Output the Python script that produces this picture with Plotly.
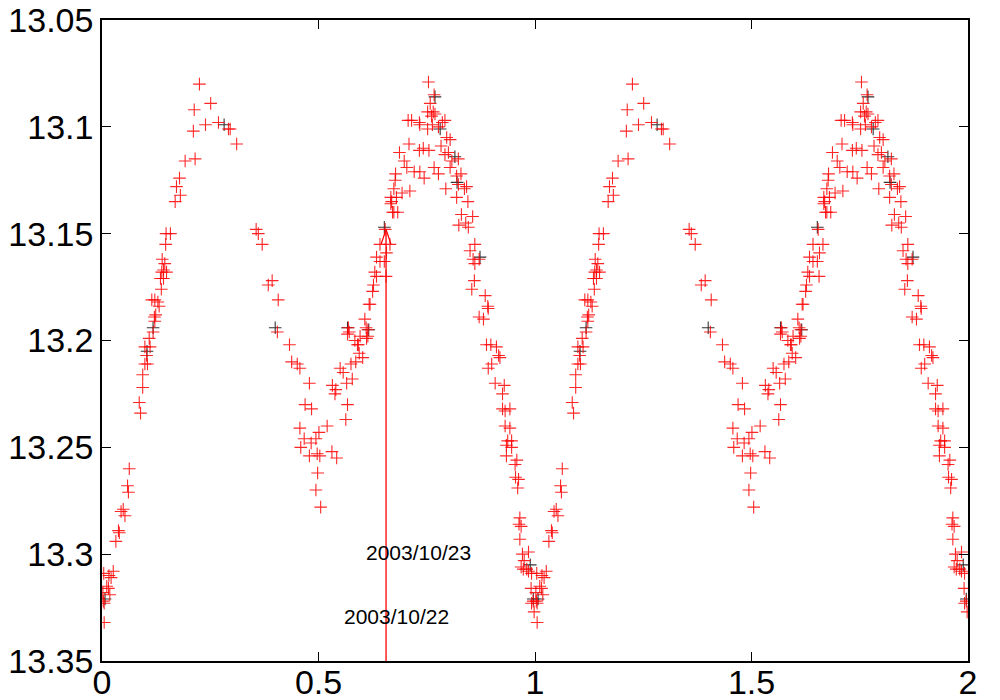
import plotly.graph_objects as go
import numpy as np

# phase-folded light curve (one cycle, repeated for phase 1-2)
red_phase = [
    0.225, 0.251, 0.213, 0.239, 0.269, 0.211, 0.292, 0.296, 0.311, 0.192, 0.215, 0.179, 0.172, 0.181, 0.169,
    0.148, 0.158, 0.147, 0.139, 0.145, 0.138, 0.149, 0.142, 0.135, 0.142, 0.137, 0.115, 0.122, 0.129, 0.132,
    0.124, 0.121, 0.122, 0.118, 0.109, 0.099, 0.111, 0.103, 0.099, 0.105, 0.094, 0.094, 0.086, 0.089, 0.063,
    0.059, 0.061, 0.044, 0.049, 0.053, 0.038, 0.040, 0.032, 0.026, 0.016, 0.021, 0.011, 0.015, 0.018, 0.003,
    0.005, 0.005, 0.004, 0.002,
    0.356, 0.361, 0.370, 0.384, 0.393, 0.407, 0.405, 0.433, 0.438, 0.451, 0.457, 0.479, 0.469, 0.484, 0.457,
    0.467, 0.494, 0.501, 0.459, 0.483, 0.479, 0.497, 0.503, 0.520, 0.531, 0.542, 0.498, 0.494, 0.505, 0.567,
    0.563, 0.532, 0.540, 0.538, 0.550, 0.557, 0.565, 0.578, 0.569, 0.571, 0.575, 0.586, 0.584, 0.590, 0.594,
    0.602, 0.596, 0.614, 0.607, 0.610, 0.617, 0.625, 0.627, 0.630, 0.634, 0.656, 0.634, 0.642, 0.652, 0.657,
    0.642, 0.665, 0.654, 0.667, 0.674, 0.683, 0.619, 0.614, 0.567, 0.592, 0.611,
    0.754, 0.767, 0.758, 0.752, 0.765, 0.761, 0.769, 0.707, 0.715, 0.733, 0.734, 0.752, 0.763, 0.777, 0.786,
    0.792, 0.709, 0.687, 0.733, 0.742, 0.755, 0.783, 0.796, 0.804, 0.698, 0.704, 0.721, 0.734, 0.744, 0.767,
    0.777, 0.792, 0.800, 0.808, 0.823, 0.804, 0.678, 0.677, 0.674, 0.667, 0.680, 0.693, 0.669, 0.671, 0.711,
    0.794, 0.819, 0.829, 0.823, 0.837, 0.842, 0.819, 0.845, 0.830, 0.824, 0.840, 0.846, 0.856, 0.861, 0.850,
    0.857, 0.871, 0.861, 0.860, 0.854, 0.885, 0.891, 0.892, 0.871, 0.881,
    0.888, 0.898, 0.911, 0.916, 0.919, 0.900, 0.892, 0.908, 0.929, 0.925, 0.925, 0.931, 0.942, 0.931, 0.942,
    0.937, 0.946, 0.934, 0.946, 0.934, 0.954, 0.958, 0.955, 0.962, 0.960, 0.965, 0.963, 0.968, 0.965, 0.971,
    0.985, 0.975, 0.968, 0.973, 0.981, 0.985, 0.992, 0.991, 0.996, 0.992, 0.998,
]
red_mag = [
    13.080, 13.089, 13.092, 13.099, 13.098, 13.102, 13.101, 13.101, 13.108, 13.116, 13.115, 13.124, 13.128, 13.132, 13.135,
    13.150, 13.150, 13.155, 13.162, 13.164, 13.168, 13.168, 13.167, 13.171, 13.171, 13.176, 13.181, 13.181, 13.182, 13.184,
    13.188, 13.189, 13.191, 13.196, 13.199, 13.203, 13.203, 13.207, 13.211, 13.211, 13.216, 13.222, 13.229, 13.234, 13.260,
    13.268, 13.271, 13.280, 13.279, 13.282, 13.289, 13.290, 13.294, 13.308, 13.310, 13.311, 13.315, 13.316, 13.319, 13.322,
    13.323, 13.332, 13.309, 13.318,
    13.148, 13.150, 13.155, 13.174, 13.172, 13.181, 13.196, 13.202, 13.210, 13.211, 13.213, 13.220, 13.230, 13.232, 13.241,
    13.246, 13.246, 13.243, 13.250, 13.248, 13.254, 13.253, 13.254, 13.240, 13.252, 13.255, 13.262, 13.270, 13.278, 13.230,
    13.237, 13.221, 13.223, 13.225, 13.213, 13.215, 13.220, 13.218, 13.194, 13.196, 13.211, 13.210, 13.200, 13.202, 13.206,
    13.208, 13.198, 13.198, 13.190, 13.194, 13.183, 13.177, 13.174, 13.168, 13.170, 13.170, 13.161, 13.163, 13.163, 13.159,
    13.155, 13.155, 13.148, 13.136, 13.140, 13.140, 13.183, 13.195, 13.197, 13.202, 13.199,
    13.079, 13.085, 13.089, 13.093, 13.093, 13.095, 13.094, 13.097, 13.097, 13.098, 13.099, 13.101, 13.099, 13.100, 13.098,
    13.097, 13.108, 13.112, 13.111, 13.110, 13.111, 13.109, 13.105, 13.106, 13.116, 13.119, 13.121, 13.121, 13.124, 13.119,
    13.122, 13.113, 13.112, 13.116, 13.115, 13.119, 13.122, 13.125, 13.129, 13.133, 13.133, 13.131, 13.135, 13.140, 13.130,
    13.129, 13.123, 13.122, 13.127, 13.129, 13.128, 13.133, 13.135, 13.141, 13.146, 13.145, 13.147, 13.142, 13.155, 13.158,
    13.162, 13.162, 13.164, 13.172, 13.176, 13.179, 13.184, 13.185, 13.189, 13.190,
    13.202, 13.202, 13.203, 13.207, 13.208, 13.211, 13.213, 13.220, 13.221, 13.225, 13.232, 13.233, 13.232, 13.240, 13.241,
    13.247, 13.247, 13.249, 13.250, 13.254, 13.258, 13.256, 13.264, 13.265, 13.269, 13.283, 13.286, 13.287, 13.293, 13.300,
    13.299, 13.303, 13.306, 13.307, 13.307, 13.308, 13.309, 13.316, 13.322, 13.323, 13.327,
]

black_phase = [0.118, 0.104, 0.282, 0.400, 0.567, 0.616, 0.652, 0.769, 0.781, 0.815, 0.820, 0.873, 0.007, 0.996, 0.989]
black_mag = [13.194, 13.205, 13.099, 13.194, 13.194, 13.195, 13.147, 13.086, 13.101, 13.114, 13.126, 13.161, 13.321, 13.321, 13.305]

# arrow marking 2003/10/23 start
arrow_phase = 0.656
arrow_mag_base = 13.35
arrow_mag_tip = 13.148
labels = ["2003/10/23", "2003/10/22"]
label_phase = [0.730, 0.681]
label_mag = [13.299, 13.329]

def two_cycles(p):
    p = np.array(p)
    return np.concatenate([p, p + 1])

fig = go.Figure()

fig.add_trace(go.Scatter(
    x=two_cycles(black_phase), y=black_mag * 2, mode="markers",
    marker=dict(symbol="cross-thin", size=9, line=dict(color="#333333", width=1.1)),
    showlegend=False))

fig.add_trace(go.Scatter(
    x=two_cycles(red_phase), y=red_mag * 2, mode="markers",
    marker=dict(symbol="cross-thin", size=9, line=dict(color="rgba(255,0,0,0.85)", width=1.1)),
    showlegend=False))

# arrow shaft and open head
hw, hh = 0.0115, 0.007
fig.add_trace(go.Scatter(
    x=[arrow_phase, arrow_phase, None, arrow_phase - hw, arrow_phase, arrow_phase + hw],
    y=[arrow_mag_base, arrow_mag_tip, None, arrow_mag_tip + hh, arrow_mag_tip, arrow_mag_tip + hh],
    mode="lines", line=dict(color="red", width=1.3), showlegend=False, hoverinfo="skip"))

for t, px, py in zip(labels, label_phase, label_mag):
    fig.add_annotation(x=px, y=py, text=t, showarrow=False,
                       font=dict(family="Liberation Sans, Arial", size=21, color="black"))

axis_common = dict(showgrid=False, zeroline=False, showline=True, linecolor="black", linewidth=1.5,
                   mirror="ticks", ticks="inside", ticklen=9, tickwidth=1.2, tickcolor="black",
                   automargin=False,
                   tickfont=dict(family="Liberation Sans, Arial", size=34, color="black"))

fig.update_xaxes(range=[0, 2], tickvals=[0, 0.5, 1, 1.5, 2], ticktext=["0", "0.5", "1", "1.5", "2"],
                 ticklabelstandoff=-10, **axis_common)
fig.update_yaxes(range=[13.35, 13.05], tickvals=[13.05, 13.1, 13.15, 13.2, 13.25, 13.3, 13.35],
                 ticktext=["13.05", "13.1", "13.15", "13.2", "13.25", "13.3", "13.35"], **axis_common)

fig.update_layout(width=1000, height=700, plot_bgcolor="white", paper_bgcolor="white",
                  margin=dict(l=102, r=32, t=20, b=39))

fig.write_html("out.html", config={"displayModeBar": False},
               post_script="document.body.style.margin='0';")
